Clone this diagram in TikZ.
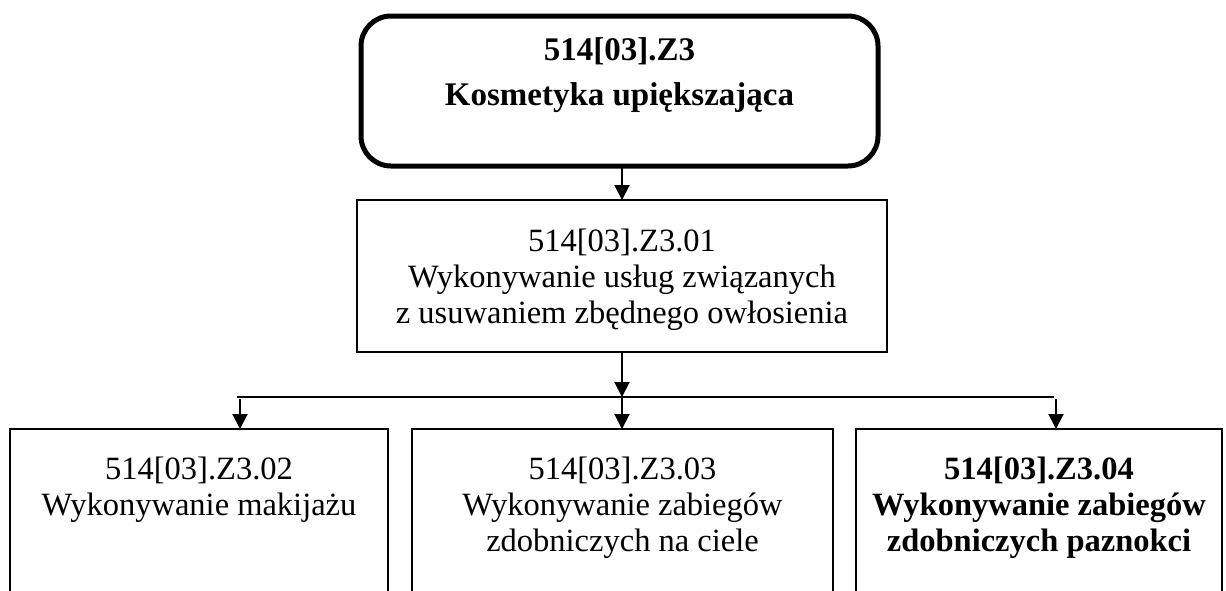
\documentclass[tikz,border=0pt]{standalone}
\usepackage{fontspec}
\setmainfont{Liberation Serif}
\usetikzlibrary{arrows.meta}
\begin{document}
\begin{tikzpicture}[x=1pt,y=-1pt,
  box/.style={draw, line width=2pt, inner sep=0pt, outer sep=0pt, anchor=north west},
  topbox/.style={draw, line width=5pt, rounded corners=30pt, inner sep=0pt, outer sep=0pt, anchor=north west},
  txt/.style={align=center, inner sep=0pt, anchor=north, font=\fontsize{32.5}{36}\selectfont},
  btxt/.style={align=center, inner sep=0pt, anchor=north, font=\fontsize{32.5}{36}\selectfont\bfseries},
  ttxt/.style={align=center, inner sep=0pt, anchor=north, font=\fontsize{33}{45}\selectfont\bfseries},
  arr/.style={line width=2pt, -{Triangle[length=15pt,width=15pt]}},
  link/.style={line width=2pt}]
\useasboundingbox (0,0) rectangle (1226,590);
\clip (0,0) rectangle (1226,590);
% boxes
\node[topbox, minimum width=517pt, minimum height=150pt] (top) at (361,16) {};
\node[box, minimum width=530pt, minimum height=152pt] (box2) at (357,200) {};
\node[box, minimum width=378pt, minimum height=220pt] (box3) at (10,429) {};
\node[box, minimum width=421pt, minimum height=220pt] (box4) at (412,429) {};
\node[box, minimum width=366pt, minimum height=220pt] (box5) at (856,429) {};
% texts
\node[ttxt] (ttop) at (619.5,36) {\rule{0pt}{24pt}514[03].Z3\\Kosmetyka upiększająca};
\node[txt] (t2) at (622,227) {\rule{0pt}{24pt}514[03].Z3.01\\Wykonywanie usług związanych\\z usuwaniem zbędnego owłosienia};
\node[txt] (t3) at (199,455) {\rule{0pt}{24pt}514[03].Z3.02\\Wykonywanie makijażu};
\node[txt] (t4) at (622.5,455) {\rule{0pt}{24pt}514[03].Z3.03\\Wykonywanie zabiegów\\zdobniczych na ciele};
\node[btxt] (t5) at (1039,455) {\rule{0pt}{24pt}514[03].Z3.04\\Wykonywanie zabiegów\\zdobniczych paznokci};
% connectors
\coordinate (j) at (622,397);
\coordinate (jL) at (237,397);
\coordinate (jR) at (1054,397);
\coordinate (a3) at (240,399);
\coordinate (a5) at (1056,399);
\draw[arr] (box2.north |- top.south) -- (box2.north);
\draw[arr] (box2.south) -- (j);
\draw[link] (jL) -- (jR);
\draw[arr] (a3) -- (a3 |- box3.north);
\draw[arr] (j) -- (j |- box4.north);
\draw[arr] (a5) -- (a5 |- box5.north);
\end{tikzpicture}
\end{document}
